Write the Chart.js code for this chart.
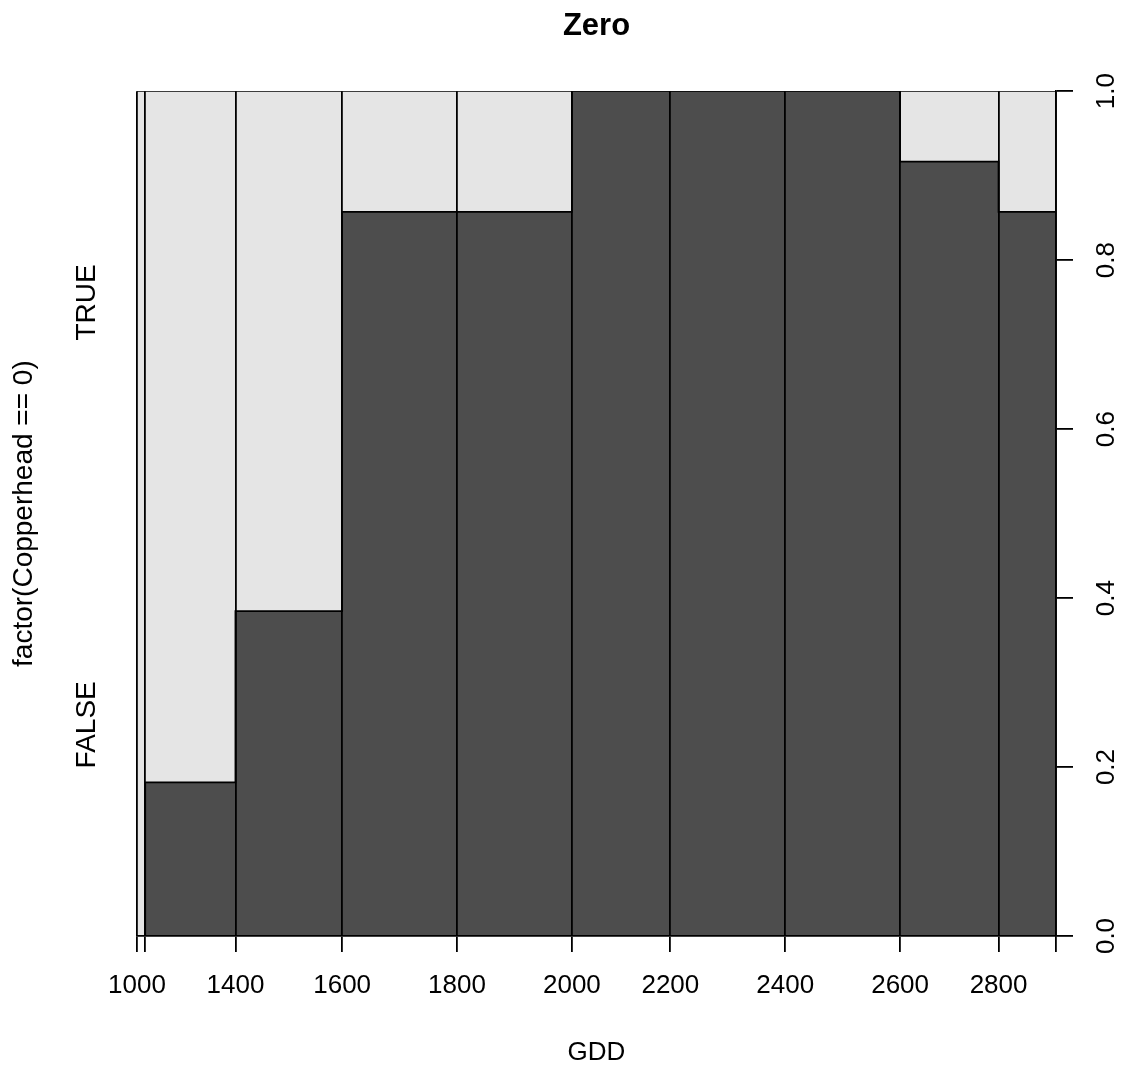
<!DOCTYPE html>
<html>
<head>
<meta charset="utf-8">
<style>
  html, body { margin: 0; padding: 0; background: #ffffff; }
  #wrap { width: 1131px; height: 1070px; }
</style>
<script src="https://cdn.jsdelivr.net/npm/chart.js@4"></script>
</head>
<body>
<div id="wrap"><canvas id="spine" width="1131" height="1070"></canvas></div>
<script>
// GDD bin breaks, number of sites per bin and how many of them are FALSE
const gddBreaks = [1000, 1200, 1400, 1600, 1800, 2000, 2200, 2400, 2600, 2800, 3000];
const binCounts = [1, 11, 13, 14, 14, 12, 14, 14, 12, 7];
const falseCounts = [0, 2, 5, 12, 12, 12, 14, 14, 11, 6];
const yLevels = ['FALSE', 'TRUE'];
const yLevelAt = [0.25, 0.75];
const rightTicks = [0, 0.2, 0.4, 0.6, 0.8, 1.0];

// bar edges on a cumulative-count axis (spine widths proportional to counts)
const edges = [0];
binCounts.forEach(n => edges.push(edges[edges.length - 1] + n));
const share = falseCounts.map((f, i) => f / binCounts[i]);

// labels that collide with a neighbour are left blank
const shownBreak = gddBreaks.map((b, i) => (i === 1 || i === gddBreaks.length - 1) ? '' : String(b));

// step outline: the point at a bin's right edge carries that bin's share
const darkSteps = edges.map((e, i) => ({ x: e, y: share[Math.max(i - 1, 0)] }));
const lightTop = edges.map(e => ({ x: e, y: 1 }));

const FONT = 'Arial, "Liberation Sans", sans-serif';
const LW = 1.8;

new Chart(document.getElementById('spine'), {
  type: 'line',
  data: {
    datasets: [
      {
        label: 'FALSE',
        data: darkSteps,
        stepped: 'after',
        fill: 'origin',
        backgroundColor: '#4d4d4d',
        borderColor: '#000000',
        borderWidth: LW,
        pointRadius: 0,
        xAxisID: 'x',
        yAxisID: 'y'
      },
      {
        label: 'TRUE',
        data: lightTop,
        fill: 'origin',
        backgroundColor: '#e5e5e5',
        borderColor: '#000000',
        borderWidth: LW,
        pointRadius: 0,
        xAxisID: 'x',
        yAxisID: 'y'
      }
    ]
  },
  options: {
    responsive: false,
    animation: false,
    events: [],
    layout: { padding: 0 },
    plugins: {
      legend: { display: false },
      tooltip: { enabled: false },
      title: {
        display: true,
        fullSize: false,
        text: 'Zero',
        color: '#000000',
        font: { family: FONT, size: 31, weight: 'bold', lineHeight: 1.2 },
        padding: { top: 8, bottom: 46 }
      }
    },
    scales: {
      x: {
        type: 'linear',
        position: 'bottom',
        min: 0,
        max: edges[edges.length - 1],
        afterBuildTicks: s => { s.ticks = edges.map(v => ({ value: v })); },
        afterFit: s => { s.height = 134; },
        ticks: {
          autoSkip: false,
          maxRotation: 0,
          minRotation: 0,
          color: '#000000',
          font: { family: FONT, size: 26 },
          padding: 18,
          callback: (v, i) => shownBreak[i]
        },
        grid: {
          display: true,
          drawOnChartArea: true,
          drawTicks: true,
          tickLength: 16,
          color: '#000000',
          lineWidth: LW,
          z: 1
        },
        border: { display: true, color: '#000000', width: LW, z: 1 },
        title: {
          display: true,
          text: 'GDD',
          color: '#000000',
          font: { family: FONT, size: 26 },
          padding: { top: 0, bottom: 2 }
        }
      },
      y: {
        type: 'linear',
        position: 'left',
        min: 0,
        max: 1,
        afterBuildTicks: s => { s.ticks = yLevelAt.map(v => ({ value: v })); },
        afterFit: s => { s.width = 137; },
        ticks: {
          color: '#000000',
          font: { family: FONT, size: 28 },
          minRotation: 90,
          maxRotation: 90,
          crossAlign: 'center',
          padding: 6,
          callback: (v, i) => yLevels[i]
        },
        grid: { display: false, drawTicks: false },
        border: { display: false },
        title: {
          display: true,
          text: 'factor(Copperhead == 0)',
          color: '#000000',
          font: { family: FONT, size: 28 },
          padding: { top: 7, bottom: 0 }
        }
      },
      y2: {
        type: 'linear',
        position: 'right',
        min: 0,
        max: 1,
        afterBuildTicks: s => { s.ticks = rightTicks.map(v => ({ value: v })); },
        afterFit: s => { s.width = 75; },
        ticks: {
          color: '#000000',
          font: { family: FONT, size: 26 },
          minRotation: 90,
          maxRotation: 90,
          crossAlign: 'center',
          padding: 16,
          callback: v => Number(v).toFixed(1)
        },
        grid: {
          drawOnChartArea: false,
          drawTicks: true,
          tickLength: 17,
          color: '#000000',
          lineWidth: LW,
          z: 1
        },
        border: { display: true, color: '#000000', width: LW, z: 1 }
      }
    }
  }
});
</script>
</body>
</html>
